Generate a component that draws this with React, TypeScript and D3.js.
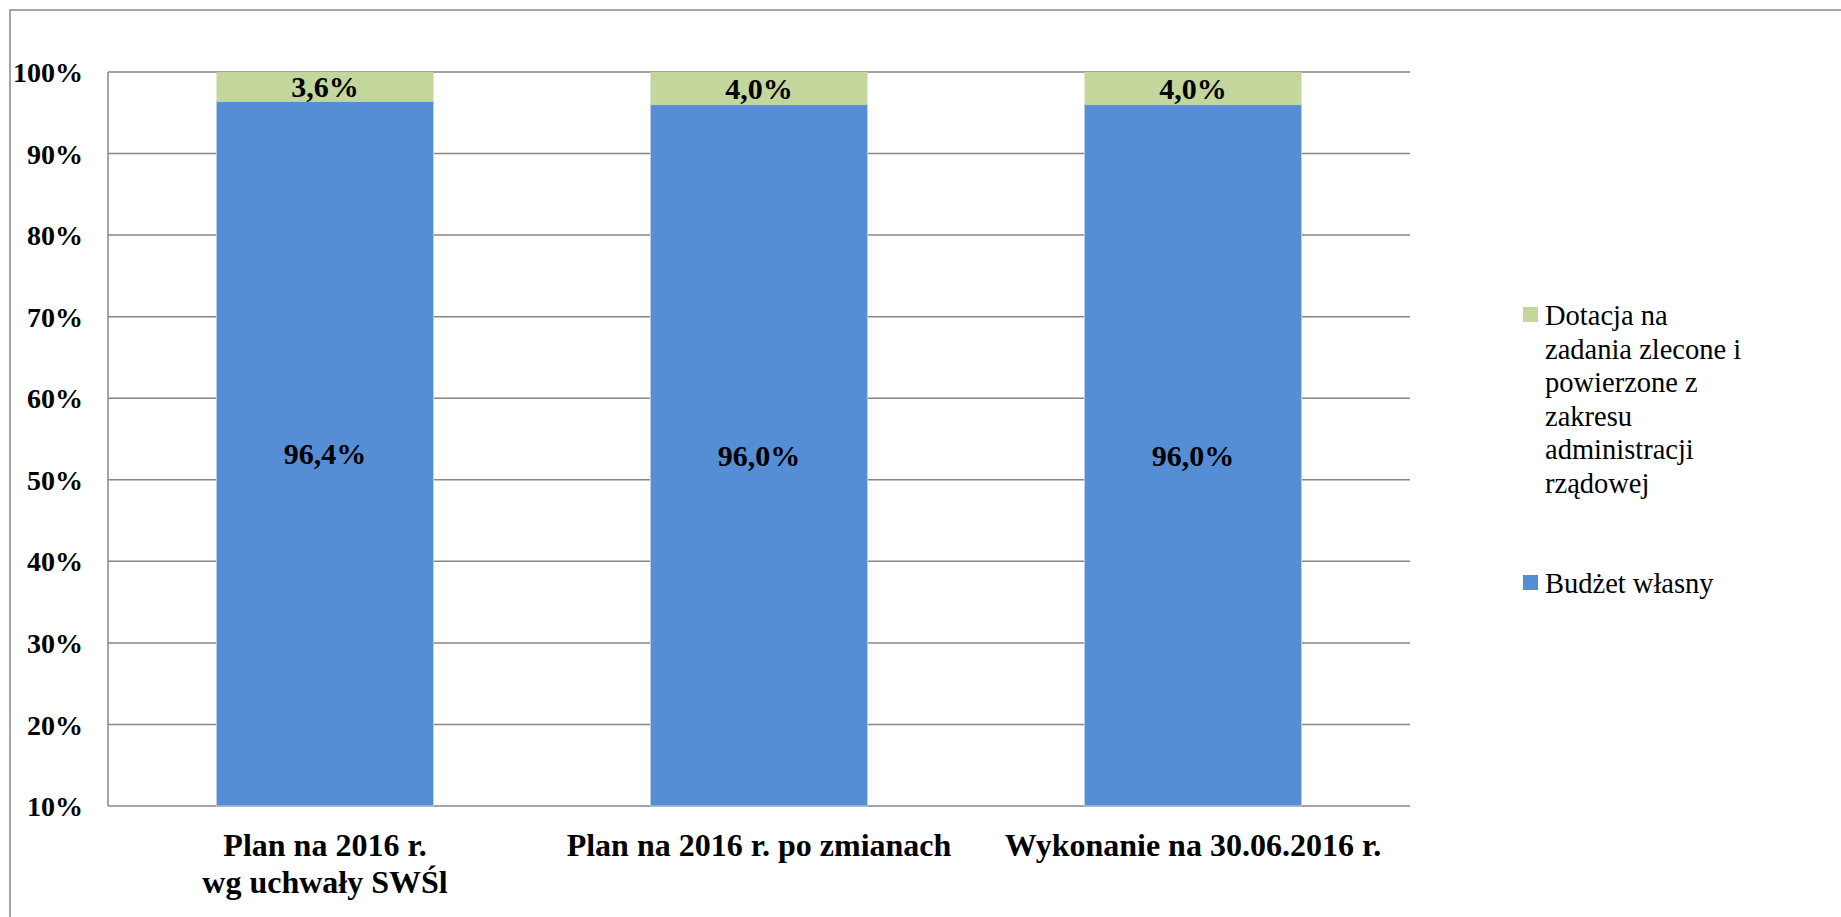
import React from "react";
import { scaleBand, scaleLinear } from "d3";

const categories = [
  ["Plan na 2016 r.", "wg uchwały SWŚl"],
  ["Plan na 2016 r. po zmianach"],
  ["Wykonanie na 30.06.2016 r."],
];
const budzetWlasny = [96.4, 96.0, 96.0];
const dotacja = [3.6, 4.0, 4.0];
const yTicks = [10, 20, 30, 40, 50, 60, 70, 80, 90, 100];
const legendDotacja = ["Dotacja na", "zadania zlecone i", "powierzone z", "zakresu", "administracji", "rządowej"];
const legendBudzet = "Budżet własny";

const blue = "#558ed5";
const green = "#c3d69b";
const grid = "#868686";
const font = "'Liberation Serif', 'Times New Roman', serif";

const W = 1841;
const H = 917;
const left = 108;
const right = 1410;
const top = 72;
const bottom = 806;

const fmt = (v: number) => v.toFixed(1).replace(".", ",") + "%";

export default function App() {
  const x = scaleBand<number>()
    .domain(categories.map((_, i) => i))
    .range([left, right])
    .paddingInner(0.5)
    .paddingOuter(0.25);
  const y = scaleLinear().domain([10, 100]).range([bottom, top]);

  return (
    <svg
      width={W}
      height={H}
      style={{ position: "absolute", left: 0, top: 0, display: "block", background: "#fff", fontFamily: font }}
    >
      <rect x={10} y={10} width={W} height={H} fill="none" stroke={grid} strokeWidth={1.5} />

      {yTicks.map((t) => (
        <g key={t}>
          <line x1={left} x2={right} y1={y(t)} y2={y(t)} stroke={grid} strokeWidth={1.5} />
          <text x={83} y={y(t)} dy="0.36em" textAnchor="end" fontSize={28} fontWeight="bold">
            {t}%
          </text>
        </g>
      ))}
      <line x1={left} x2={left} y1={top} y2={bottom} stroke={grid} strokeWidth={1.5} />

      {categories.map((c, i) => {
        const bx = x(i)!;
        const bw = x.bandwidth();
        const b = budzetWlasny[i];
        const d = dotacja[i];
        return (
          <g key={i}>
            <rect x={bx} y={y(b)} width={bw} height={y(10) - y(b)} fill={blue} stroke="#b9cde5" strokeWidth={1} />
            <rect x={bx} y={y(b + d)} width={bw} height={y(b) - y(b + d)} fill={green} />
            <text x={bx + bw / 2} y={(y(10) + y(b)) / 2} dy="0.36em" textAnchor="middle" fontSize={30} fontWeight="bold">
              {fmt(b)}
            </text>
            <text x={bx + bw / 2} y={(y(b) + y(b + d)) / 2} dy="0.36em" textAnchor="middle" fontSize={30} fontWeight="bold">
              {fmt(d)}
            </text>
            {c.map((line, j) => (
              <text key={j} x={bx + bw / 2} y={856 + j * 37} textAnchor="middle" fontSize={32} fontWeight="bold">
                {line}
              </text>
            ))}
          </g>
        );
      })}

      <rect x={1523} y={307} width={15} height={15} fill={green} />
      {legendDotacja.map((l, i) => (
        <text key={i} x={1545} y={325 + i * 33.6} fontSize={28.5}>
          {l}
        </text>
      ))}
      <rect x={1523} y={575} width={15} height={15} fill={blue} />
      <text x={1545} y={593} fontSize={28.5}>
        {legendBudzet}
      </text>
    </svg>
  );
}
